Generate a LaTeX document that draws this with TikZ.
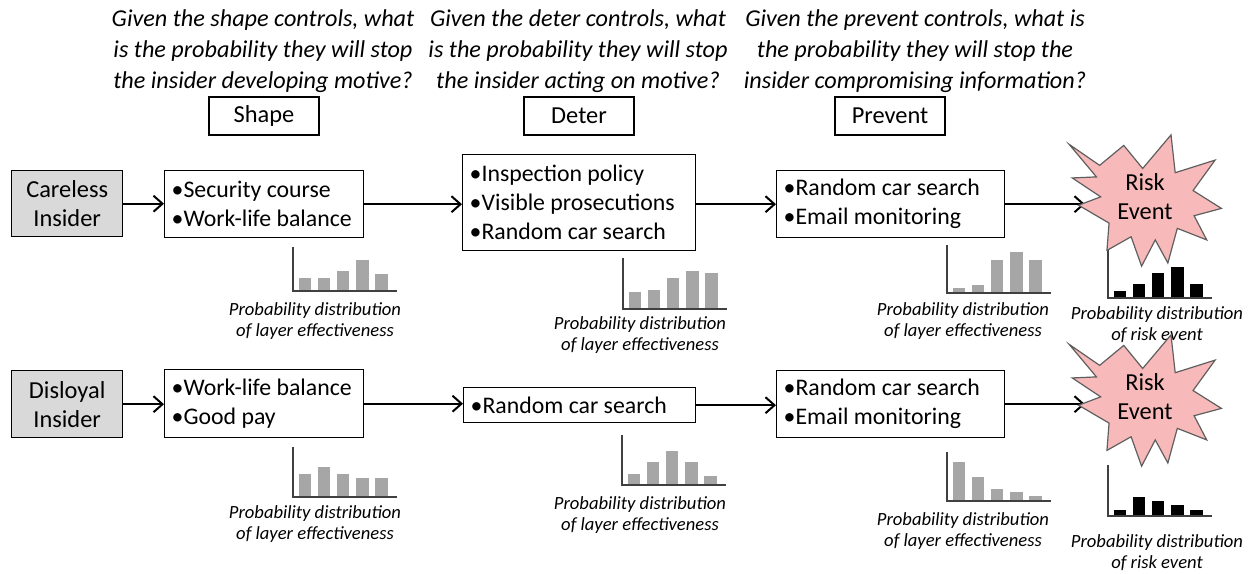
\documentclass[tikz,border=0pt]{standalone}
\usepackage{fontspec}
\setmainfont{Carlito}
\usetikzlibrary{arrows.meta}

\definecolor{insidergray}{RGB}{217,217,217}
\definecolor{bargray}{RGB}{166,166,166}
\definecolor{axisgray}{RGB}{64,64,64}
\definecolor{starpink}{RGB}{247,185,185}
\definecolor{starline}{RGB}{95,95,95}

% bar chart: axis x, baseline y, axis top y, bar colour, five bar heights
\newcommand{\distchart}[5]{%
  \foreach \h [count=\i from 0] in {#5}{%
    \fill[#4] ({#1+5.5+19.2*\i},#2) rectangle ++(12.5,-\h);
  }%
  \draw[axisline] (#1,#3) -- (#1,#2) -- ++(104,0);
}

% irregular burst outline around a centre point
\newcommand{\burst}[1]{%
  \begin{scope}[shift={(#1)}, scale=1.05]
    \draw[starshape] (-77,-53) -- (-48,-33) -- (-25,-52) -- (-7,-30) -- (20,-62)
      -- (24,-26) -- (62,-38) -- (41,-9) -- (68,8) -- (42,15) -- (54,38)
      -- (26,27) -- (17,60) -- (5,38) -- (-8,63) -- (-18,35) -- (-41,48)
      -- (-39,22) -- (-68,5) -- (-47,-3) -- (-74,-21) -- (-51,-22) -- cycle;
  \end{scope}%
}

\begin{document}
\hyphenpenalty=10000
\begin{tikzpicture}[
  x=0.5pt, y=-0.5pt,
  question/.style={font=\fontsize{12.1}{15.5}\selectfont\itshape, align=center, inner sep=0pt},
  caption/.style={font=\fontsize{9.3}{10.5}\selectfont\itshape, align=center, inner sep=0pt},
  header/.style={draw=black, line width=0.7pt, minimum width=55pt, minimum height=19pt,
    inner sep=0pt, font=\fontsize{12.2}{14.5}\selectfont},
  ctrlbox/.style={draw=black, line width=0.7pt, anchor=north west, inner xsep=3.5pt, inner ysep=0pt,
    align=flush left, font=\fontsize{11.9}{14.5}\selectfont},
  insider/.style={draw=black, line width=0.7pt, fill=insidergray, anchor=north west,
    minimum width=55.5pt, inner sep=0pt, align=center, font=\fontsize{12.2}{14.5}\selectfont},
  flow/.style={line width=1pt, -{Straight Barb[length=4.5pt,width=8pt]}},
  axisline/.style={draw=axisgray, line width=1pt},
  starshape/.style={draw=starline, line width=0.6pt, fill=starpink, line join=miter},
  risktext/.style={font=\fontsize{12.2}{14.5}\selectfont, align=center, inner sep=0pt},
]
\useasboundingbox (0,0) rectangle (1253,573);

% questions for each layer
\node[question] (q1) at (263,51) {Given the shape controls, what\\is the probability they will stop\\the insider developing motive?};
\node[question] (q2) at (578,51) {Given the deter controls, what\\is the probability they will stop\\the insider acting on motive?};
\node[question] (q3) at (915,51) {Given the prevent controls, what is\\the probability they will stop the\\insider compromising information?};

% layer headers
\node[header] (hshape) at (264,116) {Shape};
\node[header] (hdeter) at (579,116) {Deter};
\node[header] (hprev) at (890,116) {Prevent};

% careless insider row
\node[insider, minimum height=33pt] (ci) at (11,170) {Careless\\Insider};
\node[ctrlbox, text width=92.5pt, minimum height=33.5pt] (c1) at (164,170) {•Security course\\•Work-life balance};
\node[ctrlbox, text width=109.5pt, minimum height=48pt] (c2) at (462,154) {•Inspection policy\\•Visible prosecutions\\•Random car search};
\node[ctrlbox, text width=107pt, minimum height=33.5pt] (c3) at (776,170) {•Random car search\\•Email monitoring};
\coordinate (r1in) at (1085,203);

\draw[flow] (ci.east) -- (ci.east -| c1.west);
\draw[flow] (c1.east) -- (c1.east -| c2.west);
\draw[flow] (c2.east |- c3.west) -- (c3.west);
\draw[flow] (c3.east) -- (c3.east -| r1in);

\distchart{293}{291}{247}{bargray}{13,13,20,31,17}
\distchart{623}{309}{258}{bargray}{17,19,31,38,36}
\distchart{947}{293}{245}{bargray}{5,8,33,41,33}
\distchart{1108}{298}{248}{black}{7,14,25,31,14}

\node[caption] (cap1) at (315,321.5) {Probability distribution\\of layer effectiveness};
\node[caption] (cap2) at (640,335.5) {Probability distribution\\of layer effectiveness};
\node[caption] (cap3) at (963,321.5) {Probability distribution\\of layer effectiveness};
\node[caption] (cap4) at (1157,324.5) {Probability distribution\\of risk event};

\burst{1150,200}
\node[risktext] (r1) at (1145,197) {Risk\\Event};

% disloyal insider row
\node[insider, minimum height=33.5pt] (di) at (11,370) {Disloyal\\Insider};
\node[ctrlbox, text width=92.5pt, minimum height=34pt] (d1) at (164,369) {•Work-life balance\\•Good pay};
\node[ctrlbox, text width=109pt, minimum height=17.5pt] (d2) at (463,387) {•Random car search};
\node[ctrlbox, text width=107pt, minimum height=33.5pt] (d3) at (776,370) {•Random car search\\•Email monitoring};
\coordinate (r2in) at (1085,403);

\draw[flow] (di.east) -- (di.east -| d1.west);
\draw[flow] (d1.east) -- (d1.east -| d2.west);
\draw[flow] (d2.east) -- (d2.east -| d3.west);
\draw[flow] (d3.east) -- (d3.east -| r2in);

\distchart{293}{497}{447}{bargray}{23,30,23,19,19}
\distchart{622}{485}{435}{bargray}{11,23,34,23,9}
\distchart{947}{501}{452}{bargray}{39,24,12,9,5}
\distchart{1108}{516}{465}{black}{6,19,15,11,6}

\node[caption] (cap5) at (315,524.5) {Probability distribution\\of layer effectiveness};
\node[caption] (cap6) at (640,515.5) {Probability distribution\\of layer effectiveness};
\node[caption] (cap7) at (963,531) {Probability distribution\\of layer effectiveness};
\node[caption] (cap8) at (1157,552.5) {Probability distribution\\of risk event};

\burst{1150,400}
\node[risktext] (r2) at (1145,397) {Risk\\Event};
\end{tikzpicture}
\end{document}
